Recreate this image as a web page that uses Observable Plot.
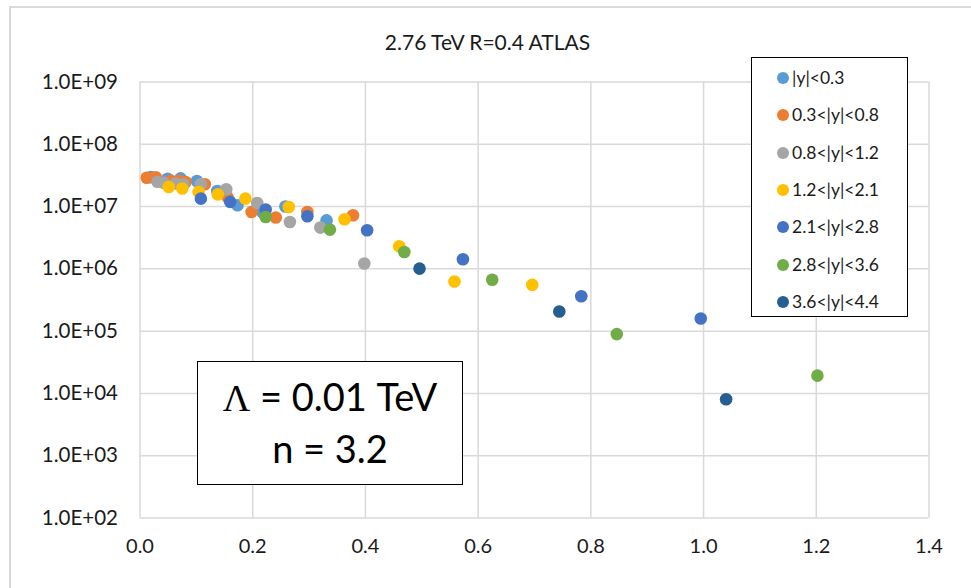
<!DOCTYPE html>
<html>
<head>
<meta charset="utf-8">
<script src="https://cdn.jsdelivr.net/npm/d3@7"></script>
<script src="https://cdn.jsdelivr.net/npm/@observablehq/plot@0.6"></script>
<style>
  html, body { margin: 0; padding: 0; background: #fff; }
  #wrap { position: relative; width: 971px; height: 588px; overflow: hidden; font-family: Lato, "Open Sans", sans-serif; }
  #frame { position: absolute; left: 9px; top: 6px; width: 1000px; height: 1000px; border-left: 2px solid #d9d9d9; border-top: 2px solid #d9d9d9; box-sizing: border-box; }
  #title { position: absolute; left: 0; width: 975px; top: 29px; text-align: center; font-size: 21px; color: #1a1a1a; }
  #legend { position: absolute; left: 751px; top: 57px; width: 157px; height: 260px; border: 1.5px solid #000; box-sizing: border-box; background: #fff; }
  .li { position: absolute; left: 25px; font-size: 17.5px; color: #1a1a1a; white-space: nowrap; line-height: 20px; }
  .li span.dot { display: inline-block; width: 12px; height: 12px; border-radius: 50%; margin-right: 3px; vertical-align: 0px; }
  #note { position: absolute; left: 197px; top: 361px; width: 266px; height: 124px; border: 1.5px solid #000; box-sizing: border-box; background: #fff; text-align: center; font-size: 38px; color: #000; line-height: 50px; padding-top: 9px; }
  #note .lam { font-family: "Liberation Serif", "DejaVu Serif", serif; }
</style>
</head>
<body>
<div id="wrap">
  <div id="frame"></div>
  <div id="chart" style="position:absolute;left:0;top:0;"></div>
  <div id="title">2.76 TeV R=0.4 ATLAS</div>
  <div id="legend"></div>
  <div id="note"><span class="lam">Λ</span> = 0.01 TeV<br>n = 3.2</div>
</div>
<script>
// ---- data ----
const seriesNames = ["|y|<0.3", "0.3<|y|<0.8", "0.8<|y|<1.2", "1.2<|y|<2.1", "2.1<|y|<2.8", "2.8<|y|<3.6", "3.6<|y|<4.4"];

const x_y0 = [0.019, 0.049, 0.072, 0.101, 0.137, 0.173, 0.217, 0.258, 0.331];
const v_y0 = [2.97e7, 2.8e7, 2.84e7, 2.58e7, 1.78e7, 1.05e7, 8.2e6, 1.0e7, 6.0e6];

const x_y1 = [0.012, 0.028, 0.055, 0.069, 0.081, 0.115, 0.155, 0.198, 0.241, 0.297, 0.378];
const v_y1 = [2.9e7, 2.95e7, 2.6e7, 2.6e7, 2.48e7, 2.28e7, 1.43e7, 8.2e6, 6.66e6, 8.2e6, 7.25e6];

const x_y2 = [0.031, 0.042, 0.063, 0.077, 0.108, 0.153, 0.208, 0.266, 0.320, 0.398];
const v_y2 = [2.5e7, 2.4e7, 2.35e7, 2.28e7, 2.28e7, 1.9e7, 1.14e7, 5.66e6, 4.6e6, 1.22e6];

const x_y3 = [0.051, 0.075, 0.104, 0.138, 0.187, 0.264, 0.363, 0.460, 0.558, 0.696];
const v_y3 = [2.06e7, 1.95e7, 1.71e7, 1.57e7, 1.34e7, 9.86e6, 6.25e6, 2.31e6, 6.26e5, 5.54e5];

const x_y4 = [0.108, 0.160, 0.223, 0.297, 0.403, 0.573, 0.783, 0.995];
const v_y4 = [1.34e7, 1.19e7, 8.96e6, 6.98e6, 4.17e6, 1.43e6, 3.64e5, 1.6e5];

const x_y5 = [0.223, 0.337, 0.469, 0.625, 0.846, 1.202];
const v_y5 = [6.8e6, 4.27e6, 1.87e6, 6.67e5, 8.96e4, 1.93e4];

const x_y6 = [0.496, 0.744, 1.040];
const v_y6 = [1.01e6, 2.07e5, 8.06e3];

const xTicks = [0, 0.2, 0.4, 0.6, 0.8, 1.0, 1.2, 1.4];
const yTicks = [1e2, 1e3, 1e4, 1e5, 1e6, 1e7, 1e8, 1e9];

const colors = ["#5B9BD5", "#ED7D31", "#A5A5A5", "#FFC000", "#4472C4", "#70AD47", "#255E91"];

// ---- build table ----
const xs = [x_y0, x_y1, x_y2, x_y3, x_y4, x_y5, x_y6];
const vs = [v_y0, v_y1, v_y2, v_y3, v_y4, v_y5, v_y6];
const rows = [];
xs.forEach((arr, i) => arr.forEach((x, j) => rows.push({series: seriesNames[i], x, y: vs[i][j]})));

const yFmt = d => "1.0E+" + String(Math.round(Math.log10(d))).padStart(2, "0");

const chart = Plot.plot({
  width: 971,
  height: 588,
  marginLeft: 139.5,
  marginRight: 42.5,
  marginTop: 81.5,
  marginBottom: 70.5,
  style: {fontFamily: "Lato, 'Open Sans', sans-serif", fontSize: "20px", color: "#1a1a1a", background: "transparent", overflow: "visible"},
  x: {domain: [0, 1.4], label: null},
  y: {type: "log", domain: [1e2, 1e9], label: null},
  color: {domain: seriesNames, range: colors},
  marks: [
    Plot.gridX(xTicks, {stroke: "#d9d9d9", strokeOpacity: 1, strokeWidth: 1.5}),
    Plot.gridY(yTicks, {stroke: "#d9d9d9", strokeOpacity: 1, strokeWidth: 1.5}),
    Plot.axisX(xTicks, {tickSize: 0, tickPadding: 21, tickFormat: d3.format(".1f"), fontSize: 20, fill: "#1a1a1a", label: null}),
    Plot.axisY(yTicks, {tickSize: 0, tickPadding: 22, tickFormat: yFmt, fontSize: 20.5, fill: "#1a1a1a", label: null}),
    Plot.dot(rows, {x: "x", y: "y", fill: "series", r: 6.3, stroke: "none"})
  ]
});
document.getElementById("chart").appendChild(chart);

// ---- legend ----
const lg = document.getElementById("legend");
const rowY = [10, 47, 85, 122, 159, 197, 234];
seriesNames.forEach((name, i) => {
  const d = document.createElement("div");
  d.className = "li";
  d.style.top = rowY[i] + "px";
  const dot = document.createElement("span");
  dot.className = "dot";
  dot.style.background = colors[i];
  d.appendChild(dot);
  d.appendChild(document.createTextNode(name));
  lg.appendChild(d);
});
</script>
</body>
</html>
